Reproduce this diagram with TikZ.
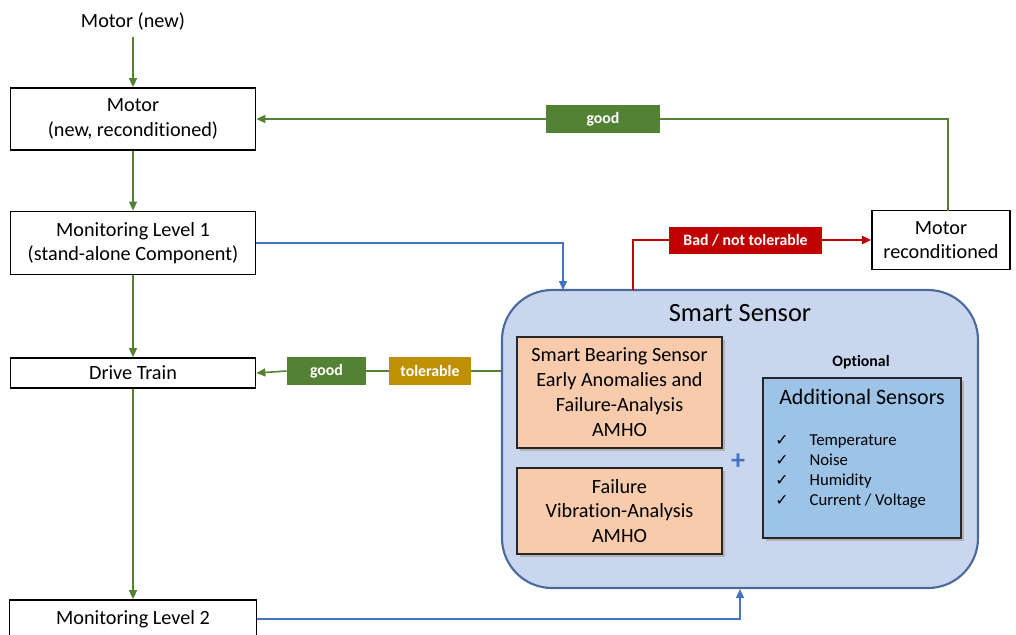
\documentclass[tikz,border=0pt]{standalone}
\usepackage{fontspec}
\setmainfont{Carlito}[Ligatures=NoCommon]
\newfontfamily\symfont{DejaVu Sans}
\usetikzlibrary{arrows.meta}

\definecolor{flowgreen}{HTML}{548235}
\definecolor{flowblue}{HTML}{4472C4}
\definecolor{flowred}{HTML}{C00000}
\definecolor{flowgold}{HTML}{BF9000}
\definecolor{sensorfill}{HTML}{C9D6EE}
\definecolor{sensorline}{HTML}{4A6A9E}
\definecolor{peach}{HTML}{F8CBAD}
\definecolor{skyfill}{HTML}{9DC3E6}

\begin{document}
\begin{tikzpicture}[x=0.2mm, y=-0.2mm,
    stagebox/.style={draw=black, line width=1pt, fill=white, align=center,
        font=\fontsize{11.5}{13.8}\selectfont, inner sep=0pt},
    tagbox/.style={fill=#1, text=white, font=\fontsize{9}{10}\selectfont\bfseries,
        minimum height=5.4mm, inner sep=0pt},
    partbox/.style={draw=black!85, line width=1.2pt, fill=peach, align=center,
        minimum width=41mm, font=\fontsize{11.5}{14.2}\selectfont, inner sep=0pt},
    shade/.style={fill=black!30},
    greenflow/.style={flowgreen, line width=0.9pt},
    blueflow/.style={flowblue, line width=0.9pt},
    redflow/.style={flowred, line width=1pt},
    tip/.style={-{Triangle[length=1.8mm, width=1.6mm]}}
]
    \useasboundingbox (0,0) rectangle (1016,634);
    \clip (0,0) rectangle (1016,634);

    % left column
    \node[font=\fontsize{11.5}{13.8}\selectfont] (new) at (133,22) {Motor (new)};
    \node[stagebox, minimum width=49mm, minimum height=12.4mm] (motor) at (133,119)
        {Motor\\(new, reconditioned)};
    \node[stagebox, minimum width=49mm, minimum height=12.6mm] (mone) at (133,243)
        {Monitoring Level 1\\(stand-alone Component)};
    \node[stagebox, minimum width=49mm, minimum height=6mm] (drive) at (133,373) {Drive Train};
    \node[stagebox, minimum width=49.4mm, minimum height=7.6mm] (mtwo) at (133,619) {Monitoring Level 2};

    \draw[greenflow, tip] (new) -- (motor);
    \draw[greenflow, tip] (motor) -- (mone);
    \draw[greenflow, tip] (mone) -- (drive);
    \draw[greenflow, tip] (drive) -- (mtwo);

    % smart sensor
    \node[draw=sensorline, line width=1.2pt, fill=sensorfill, rounded corners=10mm,
        minimum width=95.2mm, minimum height=59.6mm] (sensor) at (740,439) {};
    \node[font=\fontsize{15}{18}\selectfont] (title) at (740,313) {Smart Sensor};

    \fill[shade] (520,340) rectangle (725,451);
    \node[partbox, minimum height=22.2mm] (bearing) at (619.5,392.5)
        {Smart Bearing Sensor\\Early Anomalies and\\Failure-Analysis\\AMHO};
    \fill[shade] (520,471) rectangle (725,557);
    \node[partbox, minimum height=17.2mm] (vib) at (619.5,511)
        {Failure\\Vibration-Analysis\\AMHO};
    \node[text=flowblue, font=\fontsize{16}{16}\selectfont\bfseries] (plus) at (738,462) {+};

    \node[font=\fontsize{9}{10}\selectfont\bfseries] (opt) at (861,362) {Optional};
    \fill[shade] (766,381) rectangle (964,541);
    \node[draw=black!85, line width=1.2pt, fill=skyfill, minimum width=39.6mm,
        minimum height=32mm] (extra) at (862,458) {};
    \node[font=\fontsize{12.5}{15}\selectfont] (extratitle) at (862,397) {Additional Sensors};
    \node[anchor=north west, align=left, inner sep=0pt,
        font=\fontsize{9.5}{11.4}\selectfont] (list) at (775,434)
        {{\symfont\small ✓}\hspace{4.2mm}Temperature\\
         {\symfont\small ✓}\hspace{4.2mm}Noise\\
         {\symfont\small ✓}\hspace{4.2mm}Humidity\\
         {\symfont\small ✓}\hspace{4.2mm}Current / Voltage};

    % right side
    \node[stagebox, minimum width=27.6mm, minimum height=11.8mm] (motrec) at (941,240)
        {Motor\\reconditioned};

    \node[tagbox=flowred, minimum width=30.6mm] (bad) at (745.5,240) {Bad / not tolerable};
    \node[tagbox=flowgreen, minimum width=22.8mm, minimum height=5.6mm] (goodtop) at (603,119) {good};
    \node[tagbox=flowgold, minimum width=16.4mm, minimum height=5.6mm] (tol) at (430,371) {tolerable};
    \node[tagbox=flowgreen, minimum width=15.8mm, minimum height=5.6mm] (gooddt) at (326.5,371) {good};

    \coordinate (intop) at (563,290);
    \coordinate (outtop) at (633,290);
    \coordinate (uptop) at (948,211);

    % connectors
    \draw[blueflow, tip] (mone.east) -| (intop);
    \draw[blueflow, tip] (mtwo.east) -| (sensor.south);
    \draw[redflow] (outtop) |- (bad.west);
    \draw[redflow, tip] (bad.east) -- (motrec.west);
    \draw[greenflow] (uptop) |- (goodtop.east);
    \draw[greenflow, tip] (goodtop.west) -- (motor.east);
    \draw[greenflow] (tol.east -| sensor.west) -- (tol.east);
    \draw[greenflow] (tol.west) -- (gooddt.east);
    \draw[greenflow, tip] (gooddt.west) -- (drive.east);
\end{tikzpicture}
\end{document}
